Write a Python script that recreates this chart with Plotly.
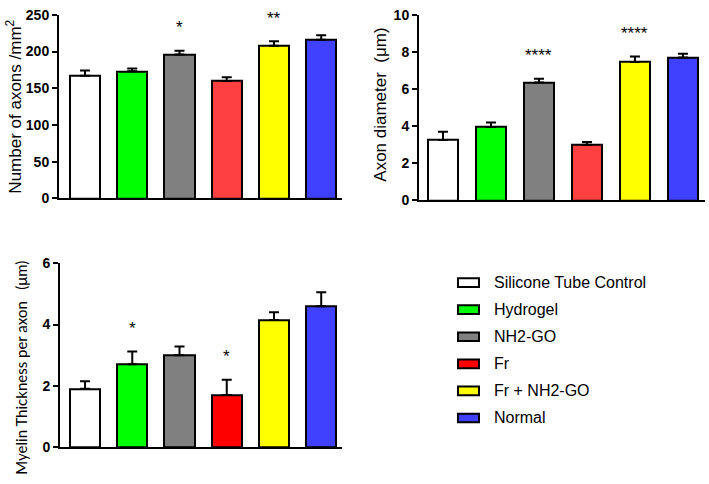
import plotly.graph_objects as go

groups = ["Silicone Tube Control", "Hydrogel", "NH2-GO", "Fr", "Fr + NH2-GO", "Normal"]
colors_a = ["#FFFFFF", "#00FF00", "#808080", "#FF4040", "#FFFF00", "#4040FF"]
colors_b = ["#FFFFFF", "#00FF00", "#808080", "#FF0000", "#FFFF00", "#4040FF"]

axons_mean = [167, 173, 196, 160, 208, 216]
axons_sem = [7, 4, 5, 5, 6, 6]
axons_sig = ["", "", "*", "", "**", ""]
axons_ticks = [0, 50, 100, 150, 200, 250]

diam_mean = [3.25, 3.95, 6.35, 3.0, 7.45, 7.7]
diam_sem = [0.45, 0.25, 0.2, 0.15, 0.3, 0.2]
diam_sig = ["", "", "****", "", "****", ""]
diam_ticks = [0, 2, 4, 6, 8, 10]

myelin_mean = [1.9, 2.7, 3.0, 1.7, 4.15, 4.6]
myelin_sem = [0.25, 0.42, 0.28, 0.5, 0.25, 0.45]
myelin_sig = ["", "*", "", "*", "", ""]
myelin_ticks = [0, 2, 4, 6]

W, H = 709, 484
FONT = "Arial, Liberation Sans, sans-serif"
xs = list(range(len(groups)))

fig = go.Figure()

panels = [
    ("x", "y", axons_mean, axons_sem, axons_sig, colors_a),
    ("x2", "y2", diam_mean, diam_sem, diam_sig, colors_a),
    ("x3", "y3", myelin_mean, myelin_sem, myelin_sig, colors_b),
]

for xa, ya, m, s, sig, cols in panels:
    fig.add_trace(go.Bar(
        x=xs, y=m, xaxis=xa, yaxis=ya, width=0.64,
        marker=dict(color=cols, line=dict(color="black", width=2)),
        error_y=dict(type="data", symmetric=False, array=s, arrayminus=[0] * len(s),
                     color="black", thickness=2, width=5),
        showlegend=False, hoverinfo="skip",
    ))
    for i, t in enumerate(sig):
        if t:
            fig.add_annotation(x=i, y=m[i] + s[i], xref=xa, yref=ya, text=t,
                               showarrow=False, yanchor="middle", yshift=23,
                               font=dict(family=FONT, size=17, color="black"))

def px_x(p):
    return p / W

def px_y(p):
    return 1 - p / H

def yax(ticks, rng):
    return dict(showline=True, linewidth=2, linecolor="black", ticks="outside",
                ticklen=5, tickwidth=2, tickcolor="black", showgrid=False, zeroline=False,
                range=rng, tickvals=ticks, ticktext=["<b>%g</b>" % v for v in ticks],
                tickfont=dict(family=FONT, size=14, color="black"))

xax_common = dict(showline=True, linewidth=2, linecolor="black", showticklabels=False,
                  ticks="", showgrid=False, zeroline=False)

fig.update_layout(
    width=W, height=H, margin=dict(l=0, r=0, t=0, b=0),
    paper_bgcolor="white", plot_bgcolor="white", bargap=0,
    xaxis=dict(domain=[px_x(59), px_x(342)], range=[-0.55, 5.44], anchor="y", **xax_common),
    yaxis=dict(domain=[px_y(197), px_y(7)], anchor="x", **yax(axons_ticks, [0, 250])),
    xaxis2=dict(domain=[px_x(419), px_x(705)], range=[-0.5, 5.46], anchor="y2", **xax_common),
    yaxis2=dict(domain=[px_y(199), px_y(7)], anchor="x2", **yax(diam_ticks, [0, 10])),
    xaxis3=dict(domain=[px_x(60), px_x(342)], range=[-0.53, 5.44], anchor="y3", **xax_common),
    yaxis3=dict(domain=[px_y(454), px_y(264)], anchor="x3", **yax(myelin_ticks, [0, 6])),
)

# axis titles
titles = [
    ("Number of axons /mm<sup>2</sup>", 14, 102, FONT, 17),
    ("Axon diameter  (μm)", 381, 100, FONT, 17),
    ("Myelin Thickness per axon   (μm)", 21, 372, "Lato, Open Sans, sans-serif", 15),
]
for t, x, y, fam, sz in titles:
    fig.add_annotation(text=t, x=px_x(x), y=px_y(y), xref="paper", yref="paper",
                       textangle=-90, showarrow=False, xanchor="center", yanchor="middle",
                       font=dict(family=fam, size=sz, color="black"))

# legend
row0, step = 284, 28
for i, (g, c) in enumerate(zip(groups, colors_b)):
    yc = row0 + step * i
    fig.add_shape(type="rect", xref="paper", yref="paper",
                  x0=px_x(458), x1=px_x(479), y0=px_y(yc + 4.5), y1=px_y(yc - 4.5),
                  fillcolor=c, line=dict(color="black", width=2))
    fig.add_annotation(text=g, x=px_x(492), y=px_y(yc), xref="paper", yref="paper",
                       showarrow=False, xanchor="left", yanchor="middle",
                       font=dict(family=FONT, size=16, color="black"))

fig.write_html("out.html", config={"displayModeBar": False},
               post_script="document.body.style.margin='0px';")
